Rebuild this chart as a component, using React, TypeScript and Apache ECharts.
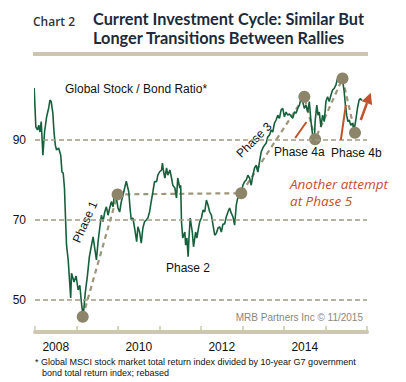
import React, { useEffect, useRef } from "react";
import * as echarts from "echarts";

// Global stock / bond ratio (rebased), decimal years
const years = [
  2007.98, 2008.02, 2008.06, 2008.09, 2008.12, 2008.15, 2008.19, 2008.23, 2008.28, 2008.33,
  2008.36, 2008.39, 2008.43, 2008.46, 2008.49, 2008.52, 2008.57, 2008.62, 2008.65, 2008.68,
  2008.71, 2008.73, 2008.76, 2008.8, 2008.86, 2008.88, 2008.94, 2008.99, 2009.04, 2009.08,
  2009.12, 2009.16, 2009.21, 2009.26, 2009.31, 2009.34, 2009.4, 2009.48, 2009.52, 2009.56,
  2009.6, 2009.64, 2009.68, 2009.72, 2009.76, 2009.8, 2009.84, 2009.88, 2009.92, 2009.96,
  2010.0, 2010.04, 2010.08, 2010.12, 2010.16, 2010.2, 2010.26, 2010.29, 2010.32, 2010.36,
  2010.4, 2010.45, 2010.48, 2010.52, 2010.56, 2010.6, 2010.64, 2010.68, 2010.72, 2010.76,
  2010.8, 2010.84, 2010.88, 2010.93, 2010.96, 2011.0, 2011.05, 2011.07, 2011.1, 2011.13,
  2011.17, 2011.2, 2011.25, 2011.29, 2011.32, 2011.37, 2011.41, 2011.44, 2011.49, 2011.51,
  2011.53, 2011.56, 2011.61, 2011.63, 2011.66, 2011.69, 2011.71, 2011.74, 2011.79, 2011.82,
  2011.87, 2011.9, 2011.94, 2011.97, 2012.01, 2012.05, 2012.09, 2012.13, 2012.17, 2012.21,
  2012.25, 2012.29, 2012.33, 2012.37, 2012.41, 2012.45, 2012.49, 2012.53, 2012.57, 2012.61,
  2012.65, 2012.69, 2012.73, 2012.77, 2012.81, 2012.85, 2012.89, 2012.93, 2012.97, 2013.01,
  2013.05, 2013.09, 2013.13, 2013.17, 2013.21, 2013.25, 2013.29, 2013.33, 2013.37, 2013.41,
  2013.45, 2013.49, 2013.53, 2013.57, 2013.61, 2013.65, 2013.69, 2013.73, 2013.77, 2013.81,
  2013.85, 2013.89, 2013.93, 2013.97, 2014.01, 2014.05, 2014.09, 2014.13, 2014.17, 2014.21,
  2014.25, 2014.29, 2014.33, 2014.37, 2014.41, 2014.45, 2014.49, 2014.53, 2014.57, 2014.61,
  2014.65, 2014.69, 2014.73, 2014.75, 2014.79, 2014.82, 2014.85, 2014.89, 2014.93, 2014.97,
  2015.01, 2015.05, 2015.09, 2015.13, 2015.17, 2015.21, 2015.25, 2015.29, 2015.33, 2015.37,
  2015.41, 2015.45, 2015.48, 2015.51, 2015.54, 2015.57, 2015.61, 2015.65, 2015.69, 2015.73,
  2015.77, 2015.81, 2015.84, 2015.86, 2015.89,
];
const ratio = [
  103, 93.3, 92.5, 93.7, 92, 94.6, 86.2, 92, 95.8, 98,
  100, 99.6, 96.7, 91.7, 88.7, 87.5, 88, 86.2, 82, 81.7,
  78, 72, 63.7, 60, 50.5, 56.7, 54.5, 56, 52.5, 53.7,
  49.2, 45.7, 51.7, 55.8, 60.8, 62.5, 65.8, 60, 64.6, 68,
  71.2, 69.6, 72, 73.3, 71.2, 73, 74.6, 73.3, 77, 75.5,
  73, 72, 74.6, 76.2, 78, 79.7, 77, 73, 70, 70.5,
  68, 64.6, 68.3, 67, 64.2, 68, 69.6, 70, 70.5, 72,
  74.6, 77, 79.6, 79.6, 81.2, 82, 82.5, 84.2, 82, 80.5,
  83, 81.2, 82.5, 80.5, 78.7, 78, 75.5, 80.5, 78, 78.7,
  69.6, 65.5, 67, 63.7, 65.5, 60.8, 65.5, 70.5, 67, 63.3,
  67, 65.5, 68, 69.6, 70.5, 72.5, 72, 75, 73.7, 72,
  71.2, 68.7, 66.2, 66.7, 68, 68.3, 67, 69, 69, 70.8,
  72, 73, 71.7, 70.8, 68.7, 73.7, 75.8, 76.2, 77, 78.7,
  79.6, 80, 81.2, 80.5, 78.7, 81.2, 83, 83.7, 82, 84.6,
  87, 88, 88.7, 89.2, 90.8, 91.2, 92.5, 92, 94.2, 95,
  96.2, 95.4, 97.5, 97.9, 95.8, 97, 96.2, 96.5, 96, 95.4,
  97, 96.7, 97.9, 98.7, 100.4, 99.6, 97.9, 98.7, 97, 99.6,
  94.6, 91.2, 89.6, 94.6, 98.7, 96.2, 97, 93.3, 96.2, 94.6,
  99.6, 100.8, 99.6, 101.2, 102.5, 102.9, 103.7, 105.4, 105, 105.8,
  105, 102.1, 98.7, 96.2, 94.6, 95, 93.7, 94.2, 92.5, 95,
  97.9, 100, 100.4, 100, 100,
];

// Cycle turning points (circles joined by dashed line)
const phaseYears = [2009.15, 2009.99, 2012.97, 2014.49, 2014.75, 2015.41, 2015.71];
const phaseValues = [45.8, 76.4, 76.7, 100.8, 90.2, 105.4, 91.8];

// Annotation pointers [fromYear, fromValue, toYear, toValue]
const pointer4a = [2014.27, 90.5, 2014.54, 94.5];
const pointer4b = [2015.37, 90, 2015.49, 98.8];
const arrow5 = [2015.85, 95, 2016.09, 101.8];

const yTickValues = [50, 70, 90];
const xTickYears = [2008, 2009, 2010, 2011, 2012, 2013, 2014, 2015, 2016];
const xLabelYears = [2008, 2010, 2012, 2014];

const ARIAL = '"Liberation Sans", Arial, sans-serif';
const TAUPE = "#8c856a";
const RUST = "#bf532b";

export default function App() {
  const ref = useRef<HTMLDivElement>(null);
  useEffect(() => {
    if (!ref.current) return;
    const chart = echarts.init(ref.current, null, { renderer: "svg" });
    const lineData = years.map((y, i) => [y, ratio[i]]);
    const phaseData = phaseYears.map((y, i) => [y, phaseValues[i]]);
    const texts: any[] = [
      { type: "text", left: 33, top: 15, style: { text: "Chart 2", font: '600 12px "Open Sans", sans-serif', fill: "#333" } },
      { type: "text", left: 93, top: 10, style: { text: "Current Investment Cycle: Similar But", font: 'bold 16.3px Lato, sans-serif', fill: "#1c2a3a" } },
      { type: "text", left: 93, top: 29, style: { text: "Longer Transitions Between Rallies", font: 'bold 16.3px Lato, sans-serif', fill: "#1c2a3a" } },
      { type: "rect", shape: { x: 33, y: 52, width: 335, height: 4 }, style: { fill: "#ccc4ae" } },
      { type: "text", x: 65, y: 89, style: { text: "Global Stock / Bond Ratio*", font: `12px ${ARIAL}`, fill: "#111", verticalAlign: "middle" } },
      { type: "text", x: 85, y: 222, rotation: (66 * Math.PI) / 180, style: { text: "Phase 1", font: `12px ${ARIAL}`, fill: "#111", align: "center", verticalAlign: "middle" } },
      { type: "text", x: 188, y: 268, style: { text: "Phase 2", font: `12px ${ARIAL}`, fill: "#111", align: "center", verticalAlign: "middle" } },
      { type: "text", x: 254, y: 140, rotation: (45 * Math.PI) / 180, style: { text: "Phase 3", font: `12px ${ARIAL}`, fill: "#111", align: "center", verticalAlign: "middle" } },
      { type: "text", x: 274, y: 152, style: { text: "Phase 4a", font: `12px ${ARIAL}`, fill: "#111", verticalAlign: "middle" } },
      { type: "text", x: 331, y: 153, style: { text: "Phase 4b", font: `12px ${ARIAL}`, fill: "#111", verticalAlign: "middle" } },
      { type: "text", x: 290, y: 184, style: { text: "Another attempt", font: 'italic 13.5px "Open Sans", sans-serif', fill: RUST, verticalAlign: "middle" } },
      { type: "text", x: 290, y: 201, style: { text: "at Phase 5", font: 'italic 13.5px "Open Sans", sans-serif', fill: RUST, verticalAlign: "middle" } },
      { type: "text", x: 363, y: 317, style: { text: "MRB Partners Inc \u00a9 11/2015", font: `10px ${ARIAL}`, fill: "#8a877c", align: "right", verticalAlign: "middle" } },
      { type: "text", x: 35, y: 362, style: { text: "* Global MSCI stock market total return index divided by 10-year G7 government", font: `9px ${ARIAL}`, fill: "#111", verticalAlign: "middle" } },
      { type: "text", x: 42, y: 373, style: { text: "bond total return index; rebased", font: `9px ${ARIAL}`, fill: "#111", verticalAlign: "middle" } },
    ];
    chart.setOption({
      animation: false,
      backgroundColor: "#ffffff",
      grid: { left: 35, right: 39, top: 70, bottom: 50, containLabel: false },
      xAxis: {
        type: "value",
        min: 2008,
        max: 2016,
        interval: 1,
        splitLine: { show: false },
        axisLine: { show: true, lineStyle: { color: "#cdc6b0", width: 4 } },
        axisTick: {
          show: true,
          inside: true,
          length: 6,
          customValues: xTickYears,
          lineStyle: { color: "#cdc6b0", width: 1.5 },
        },
        axisLabel: {
          customValues: xLabelYears.map((y) => y + 0.5),
          formatter: (v: number) => String(Math.floor(v)),
          color: "#111",
          fontFamily: ARIAL,
          fontSize: 12,
          margin: 9,
        },
      },
      yAxis: {
        type: "value",
        min: 42,
        max: 107.5,
        interval: 2,
        splitLine: { show: false },
        axisLine: { show: false },
        axisTick: { show: false },
        axisLabel: {
          customValues: yTickValues,
          formatter: (v: number) => String(v),
          color: "#111",
          fontFamily: ARIAL,
          fontSize: 12,
          margin: 9,
        },
      },
      series: [
        {
          type: "line",
          name: "grid",
          data: [],
          silent: true,
          markLine: {
            silent: true,
            symbol: "none",
            label: { show: false },
            lineStyle: { color: "#a29b84", type: [5, 3], width: 1.5 },
            data: yTickValues.map((v) => ({ yAxis: v })),
          },
        },
        {
          type: "line",
          name: "links",
          data: phaseData,
          showSymbol: false,
          lineStyle: { color: "#9d967b", width: 2.2, type: [5, 4] },
          z: 2,
        },
        {
          type: "line",
          name: "Global Stock / Bond Ratio",
          data: lineData,
          showSymbol: false,
          lineStyle: { color: "#17603c", width: 1.6 },
          z: 3,
        },
        {
          type: "scatter",
          name: "turns",
          data: phaseData,
          symbolSize: 12,
          itemStyle: { color: TAUPE, opacity: 1 },
          z: 4,
        },
      ],
      graphic: texts,
    });

    // Rust pointers and arrow, positioned through the chart's own scales
    const px = (y: number, v: number) => chart.convertToPixel({ gridIndex: 0 }, [y, v]) as number[];
    const seg = (p: number[]) => ({ a: px(p[0], p[1]), b: px(p[2], p[3]) });
    const s1 = seg(pointer4a);
    const s2 = seg(pointer4b);
    const s3 = seg(arrow5);
    const ang = Math.atan2(s3.b[1] - s3.a[1], s3.b[0] - s3.a[0]);
    const headLen = 11;
    const headW = 5.5;
    const base = [s3.b[0] - headLen * Math.cos(ang), s3.b[1] - headLen * Math.sin(ang)];
    const nx = -Math.sin(ang);
    const ny = Math.cos(ang);
    chart.setOption({
      graphic: [
        ...texts,
        { type: "line", shape: { x1: s1.a[0], y1: s1.a[1], x2: s1.b[0], y2: s1.b[1] }, style: { stroke: RUST, lineWidth: 2 }, z: 10 },
        { type: "line", shape: { x1: s2.a[0], y1: s2.a[1], x2: s2.b[0], y2: s2.b[1] }, style: { stroke: RUST, lineWidth: 2 }, z: 10 },
        { type: "line", shape: { x1: s3.a[0], y1: s3.a[1], x2: base[0], y2: base[1] }, style: { stroke: RUST, lineWidth: 2.5 }, z: 10 },
        {
          type: "polygon",
          shape: {
            points: [
              [s3.b[0], s3.b[1]],
              [base[0] + nx * headW, base[1] + ny * headW],
              [base[0] - nx * headW, base[1] - ny * headW],
            ],
          },
          style: { fill: RUST },
          z: 10,
        },
      ],
    });
    return () => chart.dispose();
  }, []);
  return <div ref={ref} style={{ width: 406, height: 382, position: "absolute", left: 0, top: 0 }} />;
}
